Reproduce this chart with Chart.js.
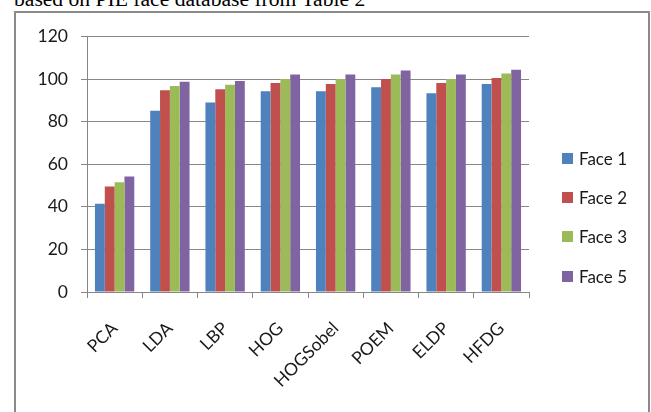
<!DOCTYPE html>
<html>
<head>
<meta charset="utf-8">
<script src="https://cdn.jsdelivr.net/npm/chart.js@4/dist/chart.umd.min.js"></script>
<style>
  html, body { margin: 0; padding: 0; background: #fff; width: 651px; height: 412px; overflow: hidden; }
  #caption {
    position: absolute; left: 14px; top: -12px;
    font-family: "Liberation Serif", "Times New Roman", serif;
    font-size: 21.6px; line-height: 22px; color: #000; white-space: nowrap;
  }
  #frame {
    position: absolute; left: 14px; top: 11px; width: 636px; height: 401px;
    box-sizing: border-box; border: 2px solid #8a8a8a; border-bottom: none;
  }
  #chart { position: absolute; left: 0; top: 0; }
  .key { position: absolute; left: 546px; height: 20px; font-family: Lato, sans-serif; font-size: 17px; color: #1a1a1a; white-space: nowrap; }
  .key i { position: absolute; left: 0; top: 4px; width: 11px; height: 11px; }
  .key span { position: absolute; left: 17px; top: 0; line-height: 20px; }
</style>
</head>
<body>
<div id="caption">based on PIE face database from Table 2</div>
<div id="frame">
  <canvas id="chart" width="632" height="399"></canvas>
</div>
<script>
// Recognition rates per method, one array per face subset
const categories = ['PCA', 'LDA', 'LBP', 'HOG', 'HOGSobel', 'POEM', 'ELDP', 'HFDG'];
const face1 = [41.5, 85.1, 89.0, 94.3, 94.3, 96.2, 93.4, 97.7];
const face2 = [49.6, 94.8, 95.2, 98.2, 97.7, 100.0, 98.2, 100.5];
const face3 = [51.5, 96.8, 97.3, 100.0, 100.0, 102.1, 100.0, 102.6];
const face5 = [54.2, 98.7, 99.1, 102.1, 102.1, 104.0, 102.1, 104.4];
const seriesNames = ['Face 1', 'Face 2', 'Face 3', 'Face 5'];
const seriesColors = ['#4f81bd', '#c0504d', '#9bbb59', '#8064a2'];
const yTicks = [0, 20, 40, 60, 80, 100, 120];

const seriesValues = [face1, face2, face3, face5];
const gridGray = '#878787';
const labelFont = { family: 'Lato, sans-serif', size: 17.5 };

const chart = new Chart(document.getElementById('chart'), {
  type: 'bar',
  data: {
    labels: categories,
    datasets: seriesValues.map((vals, i) => ({
      label: seriesNames[i],
      data: vals,
      backgroundColor: seriesColors[i],
      borderWidth: 0,
      categoryPercentage: 0.712,
      barPercentage: 1.0
    }))
  },
  options: {
    responsive: false,
    animation: false,
    layout: { padding: { top: 22, right: 119, left: 0, bottom: 0 } },
    plugins: { legend: { display: false }, tooltip: { enabled: false } },
    scales: {
      x: {
        grid: { drawOnChartArea: false, drawTicks: true, tickLength: 6, color: gridGray, offset: true },
        border: { display: true, color: gridGray },
        ticks: { font: labelFont, color: '#1a1a1a', minRotation: 45, maxRotation: 45, padding: 20, autoSkip: false },
        afterFit(scale) { scale.height = 120; }
      },
      y: {
        min: yTicks[0],
        max: yTicks[yTicks.length - 1],
        afterBuildTicks(scale) { scale.ticks = yTicks.map(v => ({ value: v })); },
        grid: { color: gridGray, lineWidth: 1, tickLength: 6, drawTicks: true },
        border: { display: true, color: gridGray },
        ticks: { font: labelFont, color: '#1a1a1a', padding: 13 },
        afterFit(scale) { scale.width = 71; }
      }
    }
  }
});

// Legend on the right, built from the same series names and colours
const frame = document.getElementById('frame');
seriesNames.forEach((name, i) => {
  const row = document.createElement('div');
  row.className = 'key';
  row.style.top = (135.5 + i * 39.4) + 'px';
  const sw = document.createElement('i');
  sw.style.background = seriesColors[i];
  const tx = document.createElement('span');
  tx.textContent = name;
  row.appendChild(sw);
  row.appendChild(tx);
  frame.appendChild(row);
});
</script>
</body>
</html>
